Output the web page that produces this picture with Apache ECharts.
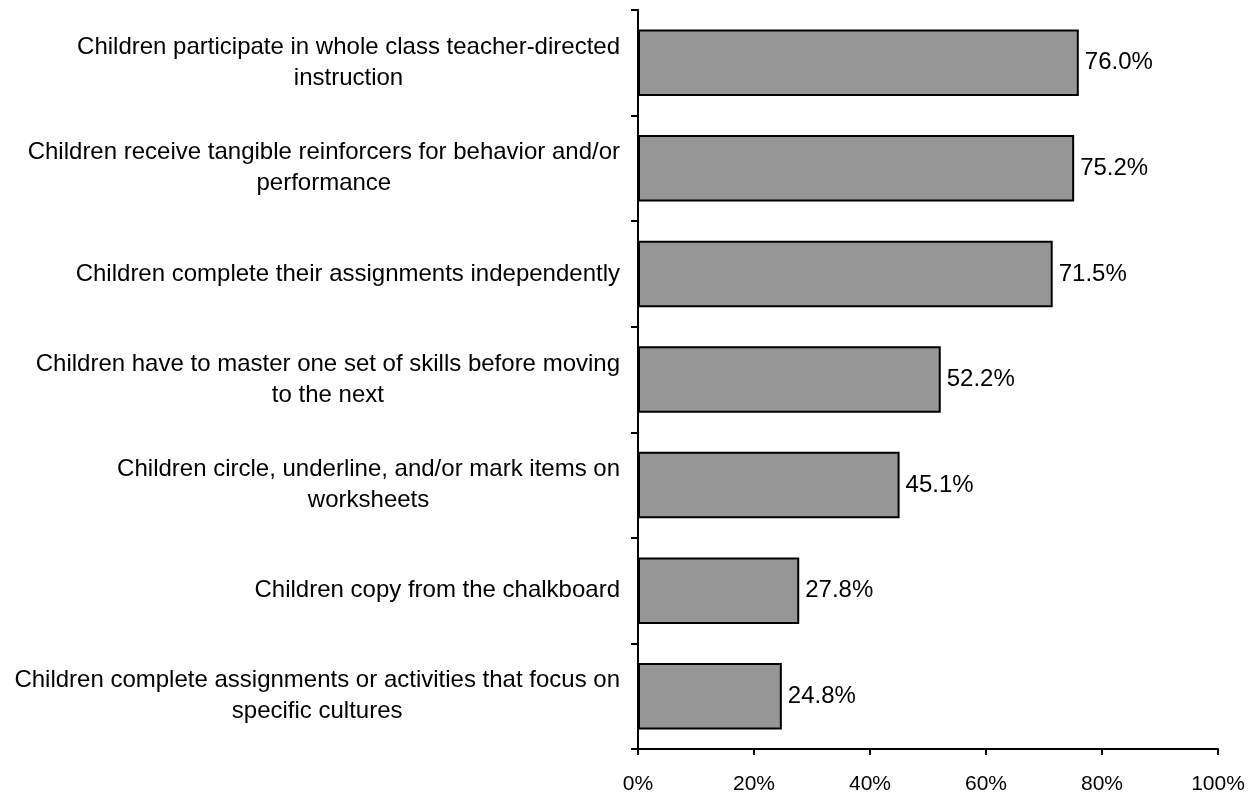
<!DOCTYPE html>
<html>
<head>
<meta charset="utf-8">
<script src="https://cdn.jsdelivr.net/npm/echarts@6/dist/echarts.min.js"></script>
<style>
  html, body { margin: 0; padding: 0; background: #fff; }
  #chart { width: 1256px; height: 792px; }
</style>
</head>
<body>
<div id="chart"></div>
<script>
// Classroom practices, share of children (%), listed top to bottom
const categories = [
  'Children participate in whole class teacher-directed\ninstruction',
  'Children receive tangible reinforcers for behavior and/or\nperformance',
  'Children complete their assignments independently',
  'Children have to master one set of skills before moving\nto the next',
  'Children circle, underline, and/or mark items on\nworksheets',
  'Children copy from the chalkboard',
  'Children complete assignments or activities that focus on\nspecific cultures'
];
const values = [76.0, 75.2, 71.5, 52.2, 45.1, 27.8, 24.8];
const xTicks = [0, 20, 40, 60, 80, 100];

const FONT = 'Liberation Sans, Arial, sans-serif';

// category axis runs bottom-to-top, so reverse to list the first item at the top
const catAxis = categories.slice().reverse();
const valAxis = values.slice().reverse();

const chart = echarts.init(document.getElementById('chart'), null, { renderer: 'canvas' });
chart.setOption({
  animation: false,
  backgroundColor: '#ffffff',
  grid: {
    left: 638, right: 38, top: 10, bottom: 43,
    containLabel: false,
    outerBoundsMode: 'none'
  },
  xAxis: {
    type: 'value',
    min: xTicks[0],
    max: xTicks[xTicks.length - 1],
    interval: xTicks[1] - xTicks[0],
    axisLine: { show: true, lineStyle: { color: '#000', width: 2 } },
    axisTick: { show: true, length: 6, lineStyle: { color: '#000', width: 2 } },
    splitLine: { show: false },
    axisLabel: {
      formatter: v => v + '%',
      color: '#000',
      fontFamily: FONT,
      fontSize: 21,
      margin: 25
    }
  },
  yAxis: {
    type: 'category',
    data: catAxis,
    axisLine: { show: true, lineStyle: { color: '#000', width: 2 } },
    axisTick: { show: true, length: 7, alignWithLabel: false, lineStyle: { color: '#000', width: 2 } },
    axisLabel: {
      margin: 18,
      formatter: s => s.split('\n').map(l => '{c|' + l + '}').join('\n'),
      rich: {
        c: {
          align: 'center',
          color: '#000',
          fontFamily: FONT,
          fontSize: 24,
          lineHeight: 31
        }
      }
    }
  },
  series: [{
    type: 'bar',
    data: valAxis,
    barCategoryGap: '37%',
    itemStyle: { color: '#969696', borderColor: '#000', borderWidth: 2 },
    label: {
      show: true,
      position: 'right',
      distance: 6,
      formatter: p => p.value.toFixed(1) + '%',
      color: '#000',
      fontFamily: FONT,
      fontSize: 24
    }
  }]
});
</script>
</body>
</html>
